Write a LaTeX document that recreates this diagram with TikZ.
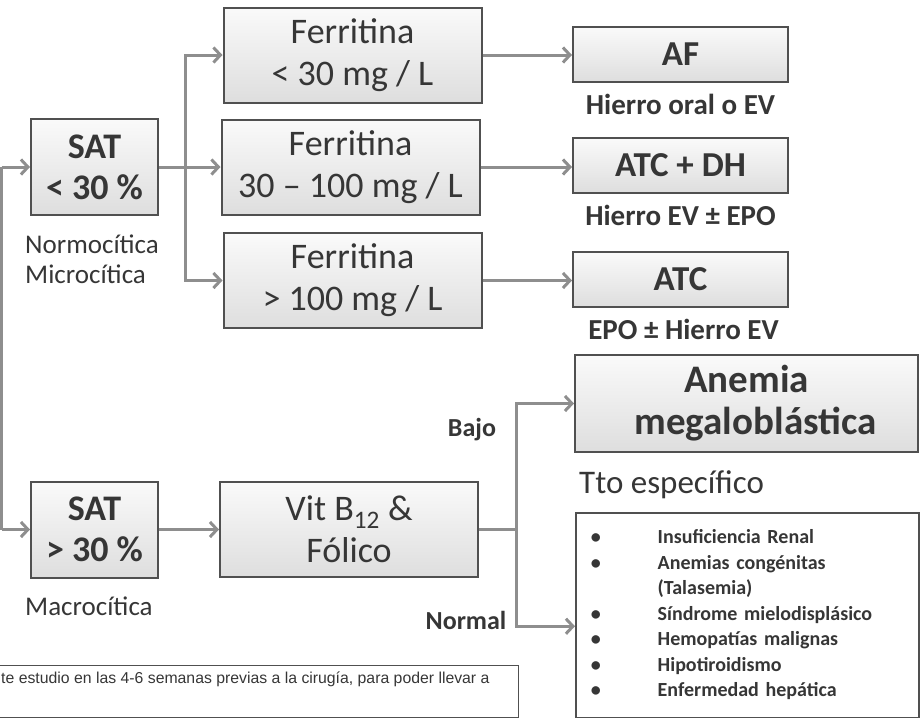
\documentclass[tikz,border=0pt]{standalone}
\usepackage{fontspec}
\setmainfont{Carlito}
\newfontfamily\memofont{Liberation Sans}
\usetikzlibrary{arrows.meta, positioning}
\definecolor{ink}{HTML}{363636}
\definecolor{edge}{HTML}{505050}
\definecolor{wire}{HTML}{8E8E8E}

\begin{document}
\begin{tikzpicture}[x=1pt,y=-1pt,>={Straight Barb[length=7pt,width=15pt]},box/.style={draw=edge, line width=2pt, top color=gray!4, bottom color=gray!26, text=ink, align=center, inner sep=0pt},sat/.style={box, minimum width=127, minimum height=96, font=\fontsize{36}{41}\selectfont\bfseries},ferr/.style={box, minimum width=258, minimum height=95, font=\fontsize{36}{42}\selectfont},res/.style={box, minimum width=215, minimum height=55, font=\fontsize{35}{42}\selectfont\bfseries},sub/.style={text=ink, font=\fontsize{29}{34}\selectfont\bfseries, inner sep=0pt},tag/.style={text=ink, font=\fontsize{27}{30}\selectfont, align=left, inner sep=0pt},branch/.style={text=ink, font=\fontsize{26}{30}\selectfont\bfseries, inner sep=0pt},arrow/.style={->, draw=wire, line width=3pt},link/.style={draw=wire, line width=3pt}]
\path[use as bounding box] (0,0) rectangle (922,718);
\clip (0,0) rectangle (922,718);
% microcitica / normocitica
\node[sat] (sat1) at (94.5,167) {SAT\\< 30 \%};
\node[tag, anchor=north west] (micro) at (25,235) {Normocítica\\Microcítica};
\node[ferr] (fer1) at (352.5,55) {Ferritina\\< 30 mg / L};
\node[ferr] (fer2) at (350.5,167) {Ferritina\\30 -- 100 mg / L};
\node[ferr] (fer3) at (352.5,280.5) {Ferritina\\> 100 mg / L};
\node[res] (af) at (680.5,54.5) {AF};
\node[res] (atcdh) at (680.5,165.5) {ATC + DH};
\node[res] (atc) at (680.5,279.5) {ATC};
\node[sub, below=11pt of af] (afsub) {Hierro oral o EV};
\node[sub, below=11pt of atcdh] (atcdhsub) {Hierro EV ± EPO};
\node[sub, below=11pt of atc, xshift=3pt] (atcsub) {EPO ± Hierro EV};
% macrocitica
\node[sat] (sat2) at (94.5,529.5) {SAT\\> 30 \%};
\node[tag, anchor=north west] (macro) at (25,597) {Macrocítica};
\node[ferr] (vit) at (349,529.5) {Vit B\textsubscript{12} \&\\Fólico};
\node[box, minimum width=343, minimum height=97, font=\fontsize{39}{42}\selectfont\bfseries] (mega) at (746.5,403.5) {Anemia\\\hspace{18pt}megaloblástica};
\node[text=ink, font=\fontsize{33}{38}\selectfont, inner sep=0pt, anchor=west] (tto) at (579,485) {Tto específico};
\node[draw=edge, line width=1.5pt, fill=white, text=ink, anchor=north west, minimum width=343, minimum height=205, inner xsep=15pt, inner ysep=0pt, text width=313pt, align=left, font=\fontsize{20}{25.5}\selectfont\bfseries] (otras) at (575,512) {\begin{tabular}{@{}l@{\hspace{57pt}}l@{}}
• & Insuficiencia Renal\\
• & Anemias congénitas\\
 & (Talasemia)\\
• & Síndrome mielodisplásico\\
• & Hemopatías malignas\\
• & Hipotiroidismo\\
• & Enfermedad hepática
\end{tabular}};
\node[branch] (bajo) at (472,430) {Bajo};
\node[branch] (normal) at (466,620) {Normal};
% nota al pie
\draw[draw=edge, line width=1pt] (-5,665) rectangle (518,717);
\node[anchor=west, text=ink, font=\memofont\fontsize{15.8}{17}\selectfont, inner sep=0pt] (memo) at (1,679) {te estudio en las 4-6 semanas previas a la cirugía, para poder llevar a};
% conectores
\coordinate (in1) at (1.5,167); \coordinate (in2) at (1.5,529.5);
\coordinate (split1) at (185,167); \coordinate (split2) at (516,529.5);
\draw[link] (in1) -- (in2);
\draw[arrow] (in1) -- (sat1); \draw[arrow] (in2) -- (sat2);
\draw[link] (sat1) -- (split1);
\draw[arrow] (split1) |- (fer1); \draw[arrow] (split1) -- (fer2); \draw[arrow] (split1) |- (fer3);
\draw[arrow] (fer1) -- (fer1 -| af.west); \draw[arrow] (fer2) -- (fer2 -| atcdh.west); \draw[arrow] (fer3) -- (fer3 -| atc.west);
\draw[arrow] (sat2) -- (vit);
\draw[link] (vit) -- (split2);
\draw[arrow] (split2) |- (mega); \draw[arrow] (split2) |- ([yshift=-11pt]otras.west);
\end{tikzpicture}
\end{document}
